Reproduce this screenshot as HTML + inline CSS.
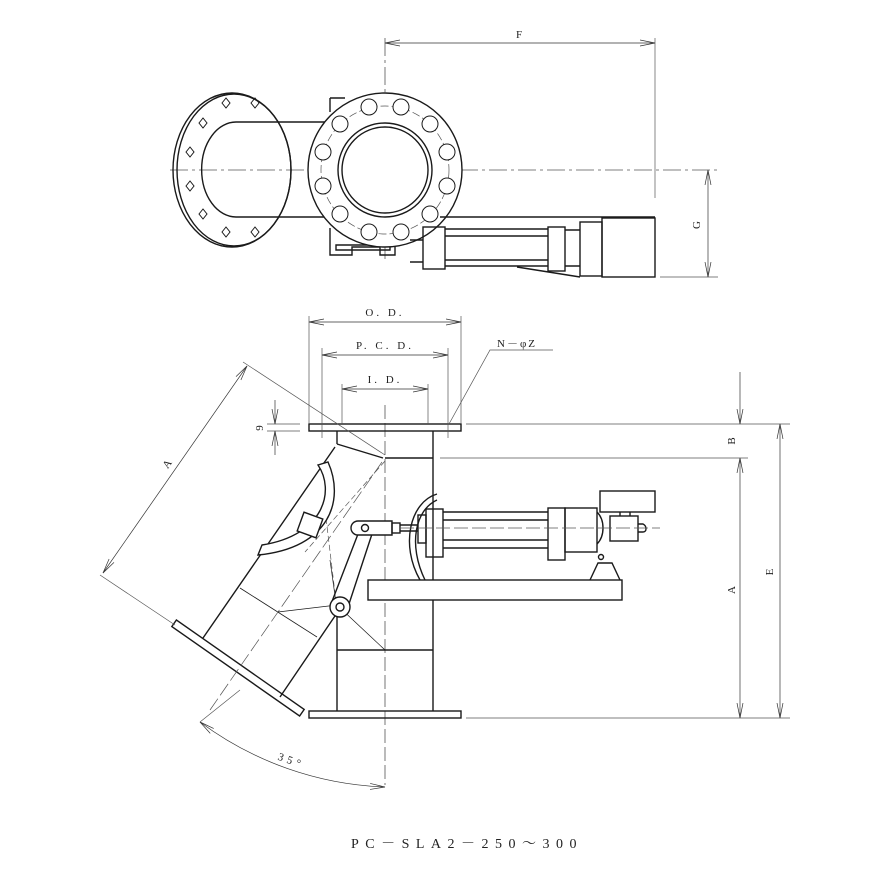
<!DOCTYPE html>
<html><head><meta charset="utf-8"><style>
html,body{margin:0;padding:0;background:#fff;}
svg{display:block;}
text{font-family:"Liberation Serif","Noto Serif CJK SC",serif;fill:#222;}
</style></head><body>
<svg width="888" height="888" viewBox="0 0 888 888" xmlns="http://www.w3.org/2000/svg">
<defs>
<marker id="a" markerWidth="16" markerHeight="8" refX="15" refY="4" orient="auto-start-reverse" markerUnits="userSpaceOnUse">
<path d="M0,1 L15,4 L0,7" fill="none" stroke="#333" stroke-width="0.7"/>
</marker>
</defs>
<g fill="none" stroke="#1a1a1a" stroke-width="1.4">
<!-- ===== TOP VIEW ===== -->
<line x1="170" y1="170" x2="720" y2="170" stroke="#555" stroke-width="0.8" stroke-dasharray="18,4,3,4"/>
<line x1="385" y1="38" x2="385" y2="262" stroke="#555" stroke-width="0.8" stroke-dasharray="18,4,3,4"/>
<ellipse cx="232" cy="170" rx="59" ry="77"/>
<ellipse cx="234" cy="170" rx="57" ry="76"/>
<path d="M236,122 L330,122 M236,217 L330,217" />
<path d="M236,122 A34,47 0 0 0 236,217"/>
<g stroke-width="1">
<path d="M222,103 l4,-5 l4,5 l-4,5z M251,103 l4,-5 l4,5 l-4,5z M199,123 l4,-5 l4,5 l-4,5z M186,152 l4,-5 l4,5 l-4,5z M186,186 l4,-5 l4,5 l-4,5z M199,214 l4,-5 l4,5 l-4,5z M222,232 l4,-5 l4,5 l-4,5z M251,232 l4,-5 l4,5 l-4,5z"/>
</g>
<path d="M330,98 L345,98 M330,98 L330,112 M330,228 L330,255 L352,255 L352,247 L380,247 L380,255 L395,255 L395,245"/>
<path d="M336,245 L390,245 L390,250 L336,250z"/>
<circle cx="385" cy="170" r="77" fill="#fff"/>
<circle cx="385" cy="170" r="64" stroke="#555" stroke-width="0.7" stroke-dasharray="8,3"/>
<circle cx="385" cy="170" r="47"/>
<circle cx="385" cy="170" r="43"/>
<g stroke-width="1" fill="#fff">
<circle cx="369" cy="107" r="8"/><circle cx="401" cy="107" r="8"/>
<circle cx="340" cy="124" r="8"/><circle cx="430" cy="124" r="8"/>
<circle cx="323" cy="152" r="8"/><circle cx="447" cy="152" r="8"/>
<circle cx="323" cy="186" r="8"/><circle cx="447" cy="186" r="8"/>
<circle cx="340" cy="214" r="8"/><circle cx="430" cy="214" r="8"/>
<circle cx="369" cy="232" r="8"/><circle cx="401" cy="232" r="8"/>
</g>
<path d="M440,217 L655,217"/>
<rect x="423" y="227" width="22" height="42"/>
<path d="M445,229 L548,229 M445,236 L548,236 M445,260 L548,260 M445,266 L548,266"/>
<rect x="548" y="227" width="17" height="44"/>
<path d="M565,230 L580,230 M565,266 L580,266"/>
<rect x="580" y="222" width="22" height="54"/>
<rect x="602" y="218" width="53" height="59"/>
<path d="M517,267 L580,277 M410,240 L423,240 M410,262 L423,262"/>
<line x1="655" y1="38" x2="655" y2="198" stroke="#555" stroke-width="0.7"/>
<line x1="385" y1="43" x2="655" y2="43" stroke="#333" stroke-width="0.7" marker-start="url(#a)" marker-end="url(#a)"/>
<line x1="660" y1="277" x2="718" y2="277" stroke="#555" stroke-width="0.7"/>
<line x1="708" y1="170" x2="708" y2="277" stroke="#333" stroke-width="0.7" marker-start="url(#a)" marker-end="url(#a)"/>

<!-- ===== FRONT VIEW ===== -->
<line x1="385" y1="405" x2="385" y2="785" stroke="#555" stroke-width="0.8" stroke-dasharray="14,4"/>
<rect x="309" y="424" width="152" height="7"/>
<rect x="309" y="711" width="152" height="7"/>
<path d="M433,431 L433,711 M337,431 L337,444 M337,613 L337,711 M385,458 L433,458 M337,650 L433,650"/>
<path d="M337,444 L383,458"/>
<path d="M335,447 L203,638 M337,613 L280,697"/>
<path d="M240,588 L317,637" stroke-width="0.8"/>
<g transform="rotate(35 238 668)"><rect x="160" y="664" width="156" height="8"/></g>
<path d="M382,462 L210,710" stroke="#555" stroke-width="0.7" stroke-dasharray="14,4"/>
<path d="M278,612 L337,605 L385,650 M330,560 L337,610" stroke-width="0.7"/>
<path d="M385,461 L305,552 M326,518 L337,610" stroke="#555" stroke-width="0.7" stroke-dasharray="6,3"/>
<path d="M318,465 C335,490 325,535 262,545 L258,555 C330,548 345,500 328,462 Z" fill="#fff"/>
<rect x="300" y="515" width="20" height="20" transform="rotate(20 310 525)" fill="#fff"/>
<path d="M358,534 L331,604 M372,534 L347,610"/>
<circle cx="340" cy="607" r="10" fill="#fff"/>
<circle cx="340" cy="607" r="4"/>
<path d="M358,521 L392,521 L392,535 L358,535 A7,7 0 0 1 358,521z" fill="#fff"/>
<circle cx="365" cy="528" r="3.5"/>
<rect x="392" y="523" width="8" height="10"/>
<path d="M400,525 L418,525 M400,531 L418,531"/>
<path d="M437,494 C410,502 400,545 420,580 M437,500 C415,510 408,545 425,580"/>
<rect x="418" y="515" width="8" height="28"/>
<rect x="426" y="509" width="17" height="48"/>
<path d="M443,512 L548,512 M443,520 L548,520 M443,540 L548,540 M443,548 L548,548"/>
<rect x="548" y="508" width="17" height="52"/>
<rect x="565" y="508" width="32" height="44"/>
<path d="M597,512 C605,520 605,536 597,544"/>
<rect x="600" y="491" width="55" height="21"/>
<path d="M620,512 L620,516 M630,512 L630,516"/>
<rect x="610" y="516" width="28" height="25"/>
<path d="M638,524 L643,524 C647,526 647,532 643,532 L638,532"/>
<path d="M590,580 L598,563 L612,563 L620,580" />
<circle cx="601" cy="557" r="2.5"/>
<rect x="368" y="580" width="254" height="20" fill="#fff"/>
<line x1="400" y1="528" x2="660" y2="528" stroke="#555" stroke-width="0.7" stroke-dasharray="14,4"/>

<g stroke="#555" stroke-width="0.7">
<path d="M309,316 L309,424 M461,316 L461,424 M322,348 L322,438 M448,348 L448,438 M342,384 L342,424 M428,384 L428,424"/>
<path d="M466,424 L790,424 M440,458 L748,458 M466,718 L790,718"/>
<path d="M267,424 L300,424 M267,431 L300,431"/>
<path d="M243,362 L385,455 M100,575 L175,625 M200,722 L240,690"/>
<path d="M449,424 L490,350 L553,350"/>
</g>
<g stroke="#333" stroke-width="0.7">
<line x1="309" y1="322" x2="461" y2="322" marker-start="url(#a)" marker-end="url(#a)"/>
<line x1="322" y1="355" x2="448" y2="355" marker-start="url(#a)" marker-end="url(#a)"/>
<line x1="342" y1="389" x2="428" y2="389" marker-start="url(#a)" marker-end="url(#a)"/>
<line x1="247" y1="366" x2="103" y2="573" marker-start="url(#a)" marker-end="url(#a)"/>
<line x1="275" y1="400" x2="275" y2="424" marker-end="url(#a)"/>
<line x1="275" y1="455" x2="275" y2="431" marker-end="url(#a)"/>
<line x1="740" y1="372" x2="740" y2="424" marker-end="url(#a)"/>
<line x1="740" y1="458" x2="740" y2="718" marker-start="url(#a)" marker-end="url(#a)"/>
<line x1="780" y1="424" x2="780" y2="718" marker-start="url(#a)" marker-end="url(#a)"/>
<path d="M200,722 A330,330 0 0 0 385,787" marker-start="url(#a)" marker-end="url(#a)"/>
</g>
</g>
<g font-size="11">
<text x="516" y="38">F</text>
<text x="700" y="225" transform="rotate(-90 700 225)" text-anchor="middle">G</text>
<text x="385" y="316" text-anchor="middle" letter-spacing="3">O. D.</text>
<text x="385" y="349" text-anchor="middle" letter-spacing="3">P. C. D.</text>
<text x="385" y="383" text-anchor="middle" letter-spacing="3">I. D.</text>
<text x="497" y="347" letter-spacing="2">N－φZ</text>
<text x="263" y="428" transform="rotate(-90 263 428)" text-anchor="middle">9</text>
<text x="170" y="466" transform="rotate(-55 170 466)" text-anchor="middle">A</text>
<text x="735" y="441" transform="rotate(-90 735 441)" text-anchor="middle">B</text>
<text x="735" y="590" transform="rotate(-90 735 590)" text-anchor="middle">A</text>
<text x="773" y="572" transform="rotate(-90 773 572)" text-anchor="middle">E</text>
<text x="290" y="764" transform="rotate(20 290 764)" text-anchor="middle" letter-spacing="4">35°</text>
</g>
<text x="467" y="848" font-size="14" text-anchor="middle" letter-spacing="6.5">PC－SLA2－250～300</text>
</svg>
</body></html>
